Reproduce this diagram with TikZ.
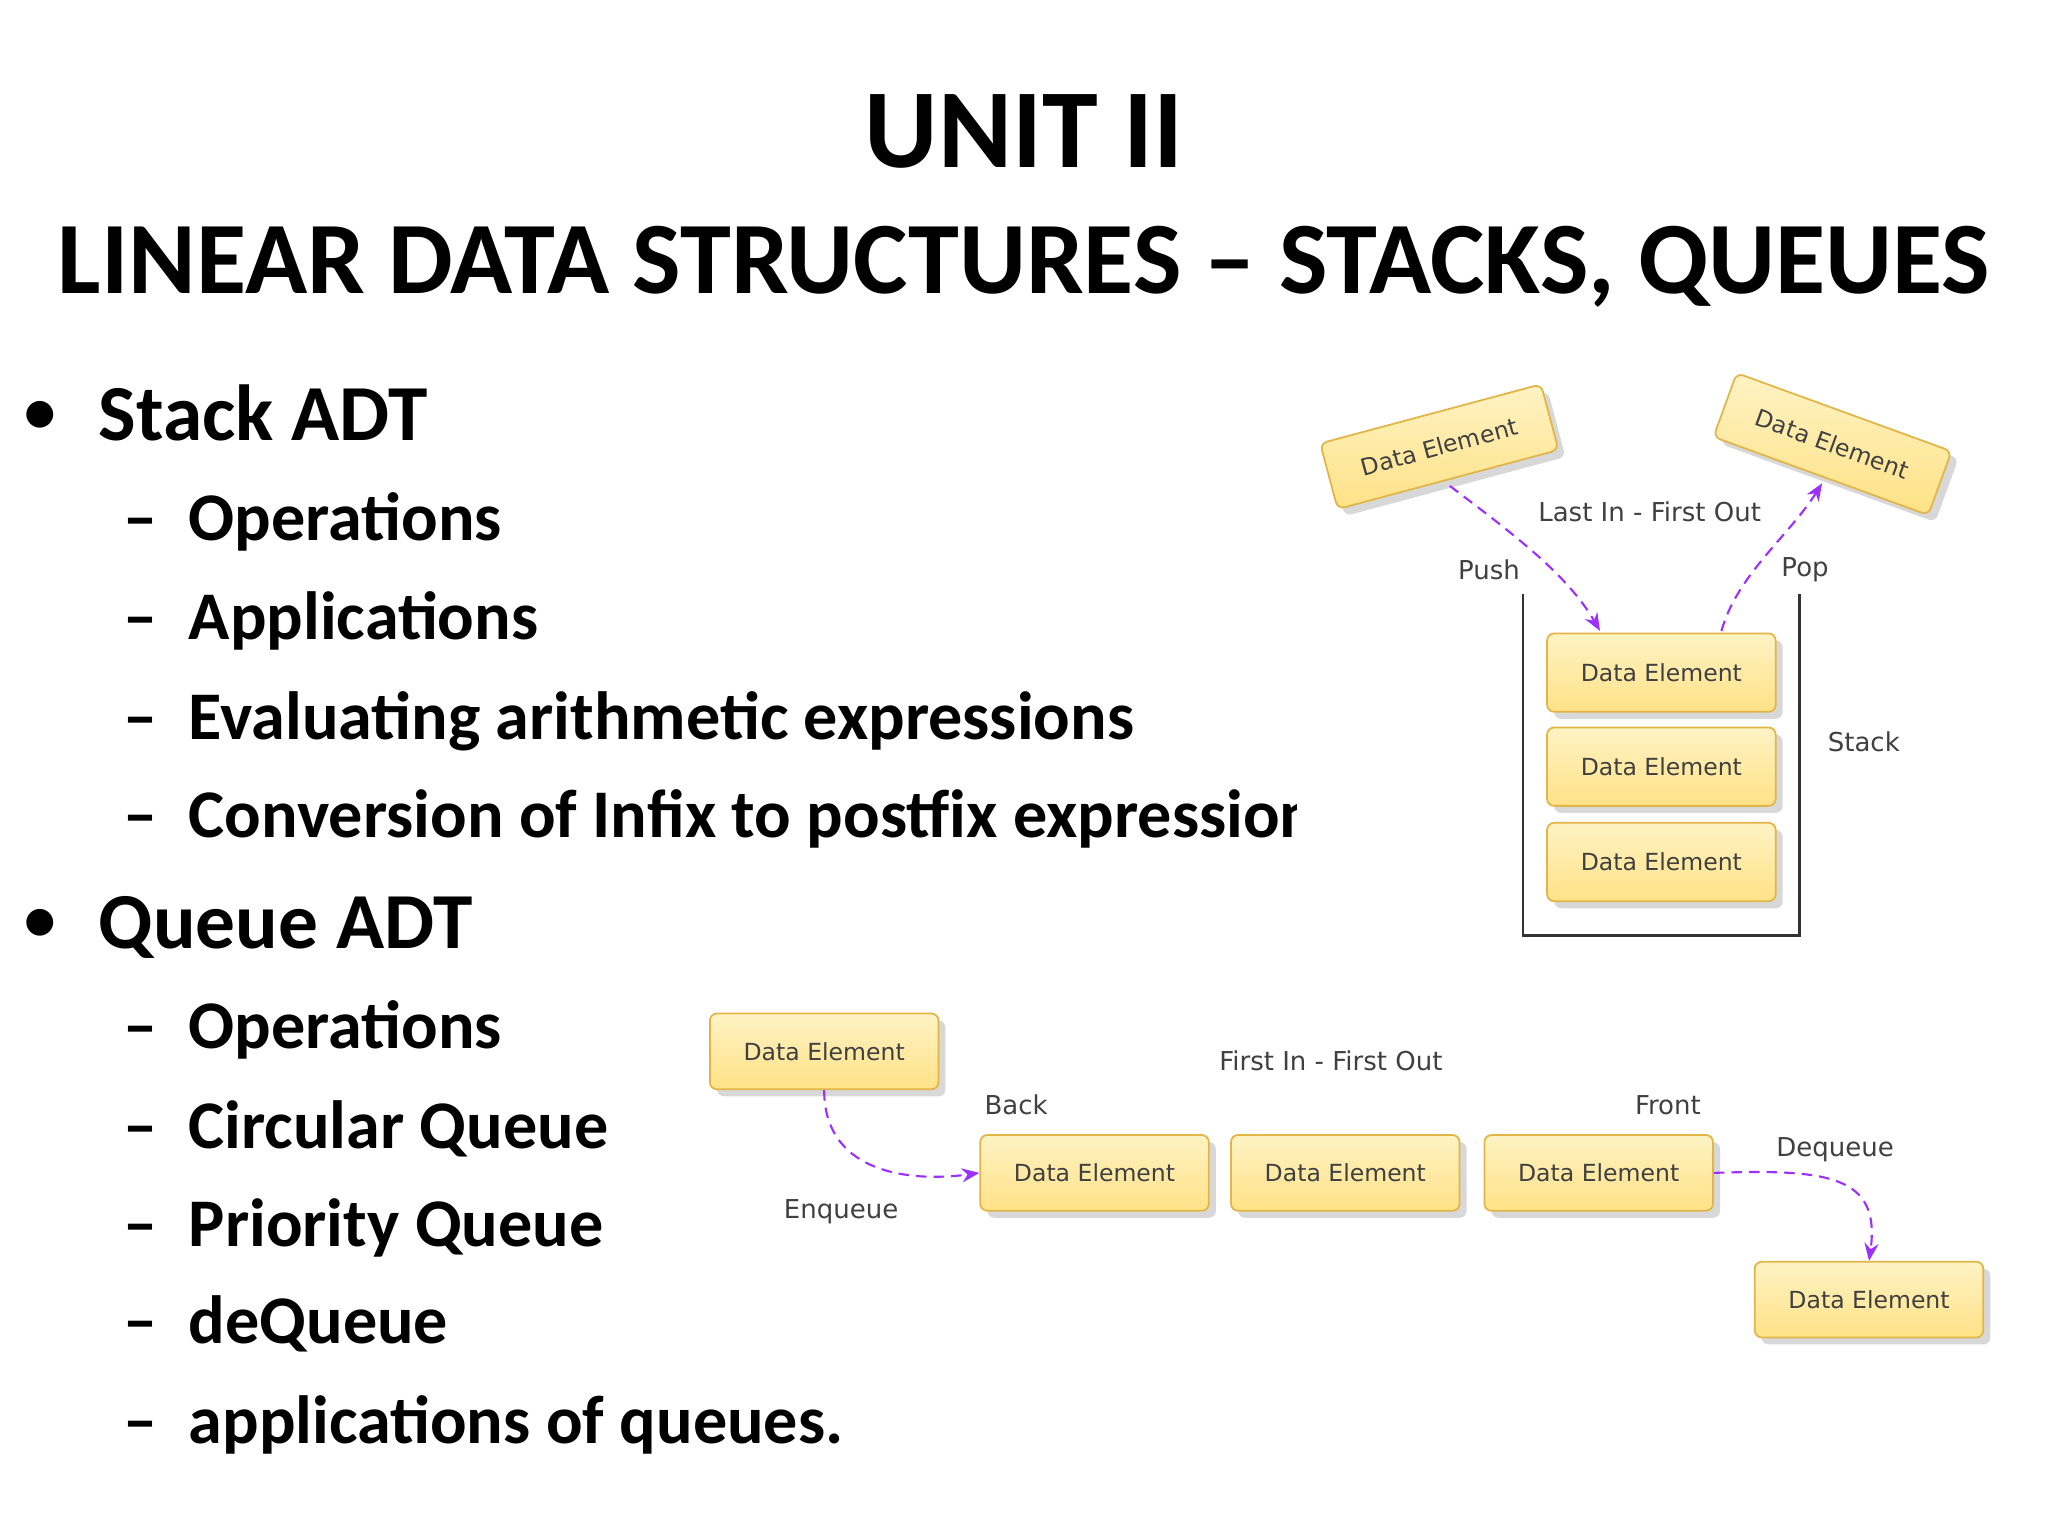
\documentclass[tikz,border=0pt]{standalone}
\usepackage{fontspec}
\setmainfont{Carlito}
\newfontfamily\diag{DejaVu Sans}
\usetikzlibrary{arrows.meta,shadows}
\definecolor{boxfill}{HTML}{FFE287}
\definecolor{boxtop}{HTML}{FFF3C4}
\definecolor{boxdraw}{HTML}{E2B547}
\definecolor{arr}{HTML}{9B30FF}
\definecolor{lbl}{HTML}{404040}
\begin{document}
\begin{tikzpicture}[x=0.013061cm,y=-0.013061cm,
  de/.style={draw=boxdraw,line width=0.5pt,rounded corners=2pt,top color=boxtop,bottom color=boxfill,
    minimum width=175*0.013061cm,minimum height=52*0.013061cm,inner sep=0pt,
    font=\diag\fontsize{6.7}{7}\selectfont,text=lbl,
    drop shadow={shadow xshift=2pt,shadow yshift=-2pt,fill=gray!60,opacity=0.5}},
  lab/.style={font=\diag\fontsize{7.4}{8}\selectfont,text=lbl,inner sep=0pt},
  da/.style={draw=arr,densely dashed,line width=0.6pt,-{Stealth[length=5pt,width=4pt]}},
  big/.style={anchor=base west,inner sep=0pt,font=\bfseries\fontsize{22.6}{28}\selectfont},
  sub/.style={anchor=base west,inner sep=0pt,font=\bfseries\fontsize{19.4}{25}\selectfont}]
\useasboundingbox (0,0) rectangle (1568,1176);
\fill[white] (0,0) rectangle (1568,1176);
\node[anchor=base,inner sep=0pt,font=\bfseries\fontsize{32}{40}\selectfont] (t1) at (784,128) {UNIT II};
\node[anchor=base,inner sep=0pt,font=\bfseries\fontsize{29.2}{36}\selectfont] (t2) at (784,225) {LINEAR DATA STRUCTURES – STACKS, QUEUES};
% bullets
\foreach \y/\t [count=\i] in {337/Stack ADT,726/Queue ADT}{
  \node[big] (b\i) at (75,\y) {\t};
  \node[big,font=\bfseries\fontsize{18}{20}\selectfont] (bd\i) at (18,\y-6) {•};}
\begin{scope}
\clip (0,250) rectangle (993,1176);
\foreach \y/\t [count=\i] in {414/Operations,490/Applications,566/Evaluating arithmetic expressions,641/Conversion of Infix to postfix expression,803/Operations,879/Circular Queue,954/Priority Queue,1029/deQueue,1105/applications of queues.}{
  \node[sub] (s\i) at (144,\y) {\t};
  \node[sub] (sd\i) at (94,\y) {–};}
\end{scope}
% stack
\node[de,rotate=15] (p1) at (1102,342) {Data Element};
\node[de,rotate=-20] (p2) at (1403,340) {Data Element};
\node[de,minimum height=60*0.013061cm] (s1) at (1272,515) {Data Element};
\node[de,minimum height=60*0.013061cm] (s2) at (1272,587) {Data Element};
\node[de,minimum height=60*0.013061cm] (s3) at (1272,660) {Data Element};
\coordinate (c1) at (1166,455); \coordinate (c2) at (1166,716);
\coordinate (c3) at (1378,716); \coordinate (c4) at (1378,455);
\draw[line width=0.8pt,black!80] (c1) -- (c2) -- (c3) -- (c4);
\node[lab] (l1) at (1263,392) {Last In - First Out};
\node[lab] (l2) at (1140,436) {Push};
\node[lab] (l3) at (1382,436) {Pop};
\node[lab] (l4) at (1427,568) {Stack};
\coordinate (pa) at (1225,483); \coordinate (pb) at (1318,483);
\coordinate (ps) at (1110,372); \coordinate (pe) at (1395,370);
\draw[da] (ps) .. controls (1160,410) and (1200,440) .. (pa);
\draw[da] (pb) .. controls (1330,440) and (1370,410) .. (pe);
% queue
\node[de,minimum height=58*0.013061cm] (q0) at (631,805) {Data Element};
\node[de,minimum height=58*0.013061cm] (q1) at (838,898) {Data Element};
\node[de,minimum height=58*0.013061cm] (q2) at (1030,898) {Data Element};
\node[de,minimum height=58*0.013061cm] (q3) at (1224,898) {Data Element};
\node[de,minimum height=58*0.013061cm] (q4) at (1431,995) {Data Element};
\node[lab] (m1) at (1019,812) {First In - First Out};
\node[lab] (m2) at (778,846) {Back};
\node[lab] (m3) at (1277,846) {Front};
\node[lab] (m4) at (1405,880) {Dequeue};
\node[lab] (m5) at (644,928) {Enqueue};
\draw[da] (q0.south) .. controls (631,900) and (700,905) .. (q1.west);
\draw[da] (q3.east) .. controls (1400,895) and (1440,900) .. (q4.north);
\end{tikzpicture}
\end{document}
